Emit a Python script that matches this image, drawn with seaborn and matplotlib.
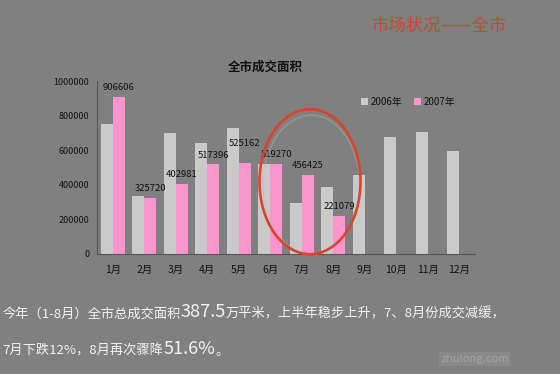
import numpy as np
import pandas as pd
import matplotlib
matplotlib.use("Agg")
import matplotlib.pyplot as plt
from matplotlib.patches import Ellipse
from matplotlib.text import Annotation
import seaborn as sns

# 全市成交面积（平方米）
months = ["1月", "2月", "3月", "4月", "5月", "6月",
          "7月", "8月", "9月", "10月", "11月", "12月"]
area_2006 = [750000, 335000, 700000, 643000, 726000, 520000,
             297000, 387000, 455000, 674000, 703000, 597000]
area_2007 = [906606, 325720, 402981, 517396, 525162, 519270,
             456425, 221079, np.nan, np.nan, np.nan, np.nan]
years = ["2006年", "2007年"]
yticks = [0, 200000, 400000, 600000, 800000, 1000000]

BG = "#808080"
GRAY = "#cacaca"
PINK = "#fa96cd"
TEXT_LIGHT = "#f2f2f2"

df = pd.DataFrame({
    "月份": months * 2,
    "年份": [years[0]] * len(months) + [years[1]] * len(months),
    "面积": area_2006 + area_2007,
})

sns.set_theme(style="white")
plt.rcParams["font.family"] = ["Noto Sans CJK SC", "DejaVu Sans"]

fig = plt.figure(figsize=(5.6, 3.74), dpi=100, facecolor=BG)
ax = fig.add_axes([0.1732, 0.3209, 0.675, 0.4625])
ax.set_facecolor(BG)

sns.barplot(data=df, x="月份", y="面积", hue="年份", order=months,
            hue_order=years, palette={years[0]: GRAY, years[1]: PINK},
            width=0.76, saturation=1, gap=0, linewidth=0, ax=ax, legend=True)

ax.set_xlim(-0.5, len(months) - 0.5)
ax.set_ylim(0, 1000000)
ax.set_yticks(yticks)
ax.set_yticklabels([str(t) for t in yticks], fontsize=6.5, color="#111111")
ax.tick_params(axis="y", length=0, pad=5.5)
ax.tick_params(axis="x", length=0, pad=8, labelsize=7.5, labelcolor="#111111")
ax.set_xlabel("")
ax.set_ylabel("")
for side in ("top", "right"):
    ax.spines[side].set_visible(False)
for side in ("left", "bottom"):
    ax.spines[side].set_color("#555555")
    ax.spines[side].set_linewidth(0.8)

# value labels above the 2007 bars
pink_bars = ax.containers[1]
lbls = ["" if np.isnan(v) else f"{int(v)}" for v in pink_bars.datavalues]
anns = ax.bar_label(pink_bars, labels=lbls, padding=3.5, fontsize=6.8,
                    color="#111111")
# lift the May label so it clears its neighbours
anns[months.index("5月")].xyann = (0, 11)

# legend
handles, labels = ax.get_legend_handles_labels()
ax.legend(handles, labels, ncol=2, loc="center left",
          bbox_to_anchor=(0.645, 0.728), bbox_transform=fig.transFigure,
          frameon=False, fontsize=7, handlelength=0.7, handleheight=0.7,
          handletextpad=0.3, columnspacing=1.2, borderpad=0, borderaxespad=0,
          labelcolor="#111111")

# chart title
fig.text(0.473, 0.82, "全市成交面积", ha="center", va="center",
         fontsize=9, fontweight="bold", color="#111111")

# slide heading
fig.text(0.904, 0.930, "市场状况——全市", ha="right", va="center",
         fontsize=12.5, color="#c94a2c")

# highlight ring around July and August, with a soft shadow
fig.add_artist(Ellipse((0.556, 0.507), 0.172, 0.37, transform=fig.transFigure,
                       fill=False, ec="#b8b8b8", lw=1.2, alpha=0.35))
fig.add_artist(Ellipse((0.5536, 0.5142), 0.1804, 0.3877, transform=fig.transFigure,
                       fill=False, ec="#d9442a", lw=1.9))

# commentary below the chart, pieces chained left to right
line1 = [("今年（1-8月）全市总成交面积", 9.5), ("387.5", 13),
         ("万平米，上半年稳步上升，7、8月份成交减缓，", 9.5)]
line2 = [("7月下跌12%，8月再次骤降", 9.5), ("51.6%", 13), ("。", 9.5)]


def write_pieces(x, y, pieces):
    last = fig.text(x, y, pieces[0][0], ha="left", va="bottom",
                    fontsize=pieces[0][1], color=TEXT_LIGHT)
    for text, size in pieces[1:]:
        last = fig.add_artist(Annotation(
            text, xy=(1, 0), xycoords=last, xytext=(0, 0),
            textcoords="offset points", ha="left", va="bottom",
            fontsize=size, color=TEXT_LIGHT))


write_pieces(0.004, 0.143, line1)
write_pieces(0.004, 0.043, line2)

# site mark
fig.text(0.848, 0.040, "zhulong.com", ha="center", va="center", fontsize=8,
         color="#a4a4a4",
         bbox=dict(boxstyle="square,pad=0.15", fc="#898989", ec="none"))

fig.savefig("out.png", dpi=100, facecolor=BG)
